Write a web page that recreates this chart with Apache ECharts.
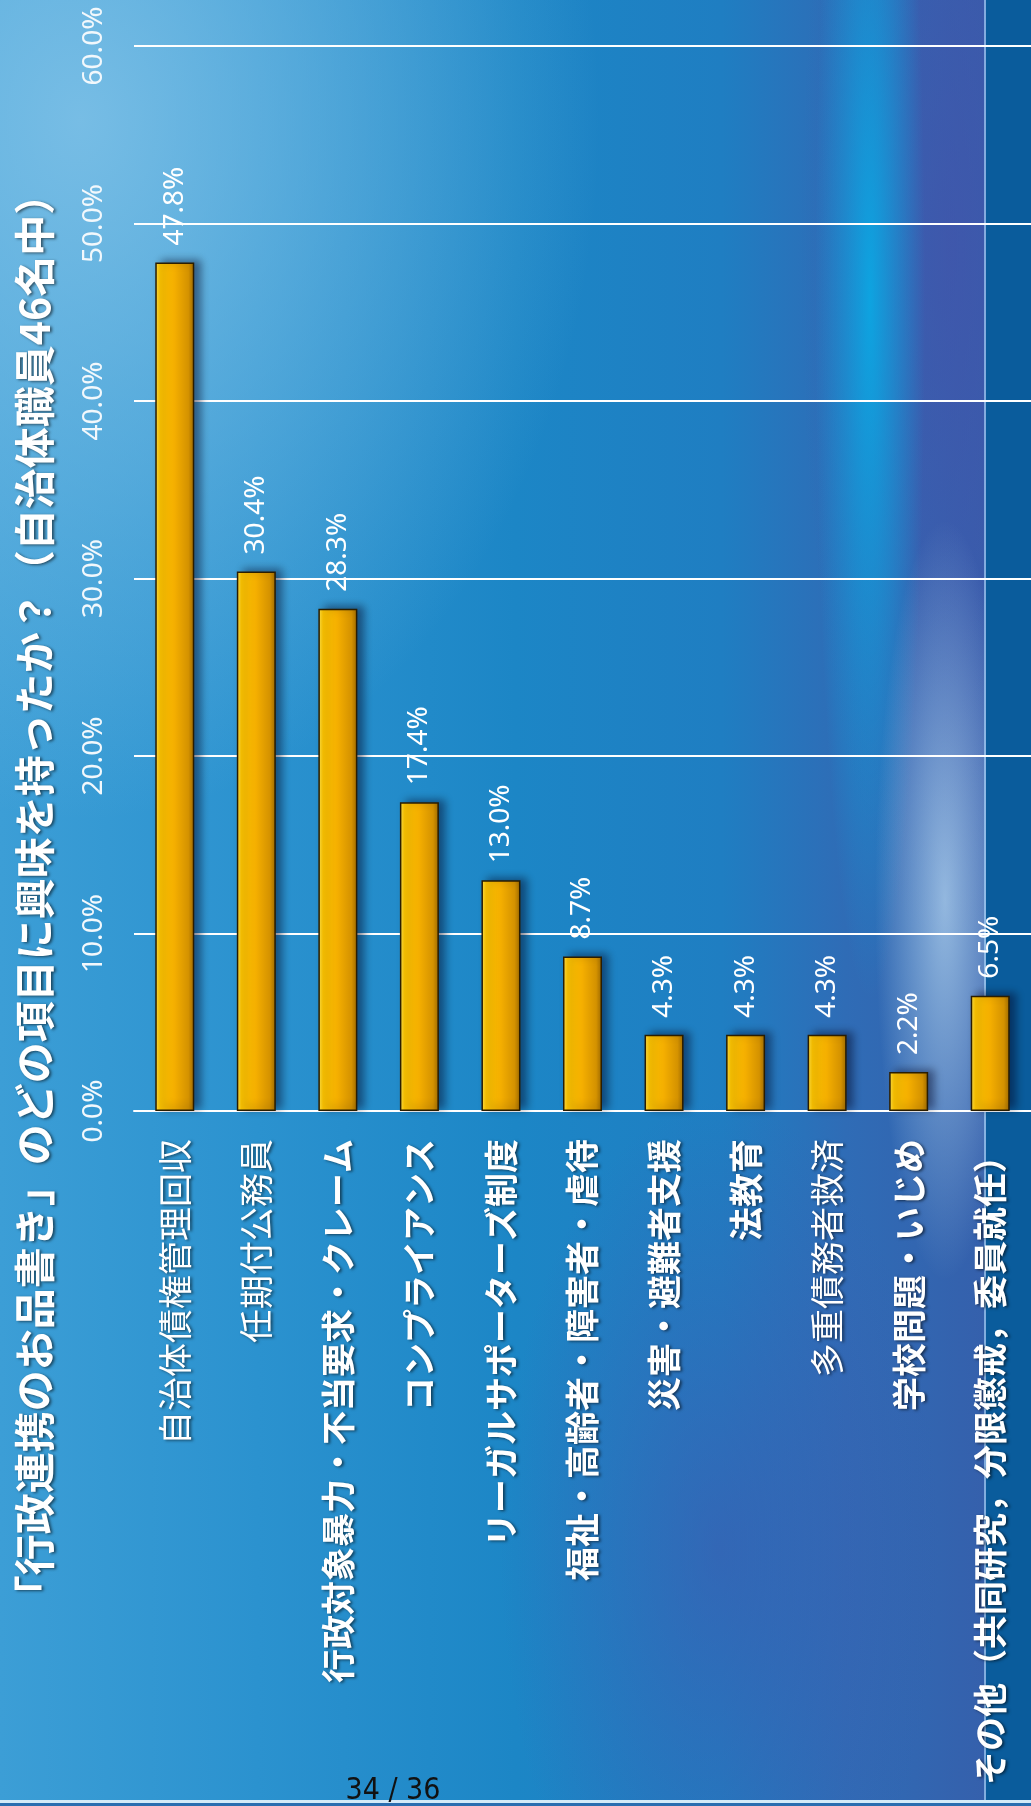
<!DOCTYPE html>
<html>
<head>
<meta charset="utf-8">
<script src="https://cdn.jsdelivr.net/npm/echarts@6/dist/echarts.min.js"></script>
<style>
html, body { margin: 0; padding: 0; }
body {
    width: 1031px; height: 1806px; overflow: hidden;
    background:
        linear-gradient(to bottom, transparent 1800px, #d4eaf8 1800px, #d4eaf8 1803px, #2a6db0 1803px),
        linear-gradient(to right, transparent 984px, rgba(170,215,250,0.65) 984px, rgba(170,215,250,0.65) 986px, transparent 986px),
        linear-gradient(to right, transparent 986px, #0a5c9c 986px),
        radial-gradient(ellipse 70px 380px at 945px 900px, rgba(210,240,255,0.6), rgba(210,240,255,0) 100%),
        radial-gradient(ellipse 55px 700px at 870px 300px, rgba(0,185,240,0.75), rgba(0,185,240,0) 100%),
        radial-gradient(ellipse 520px 700px at 80px 120px, rgba(130,195,232,0.85), rgba(130,195,232,0) 100%),
        radial-gradient(ellipse 150px 700px at 950px 250px, rgba(70,80,170,0.6), rgba(70,80,170,0) 100%),
        radial-gradient(ellipse 220px 450px at 720px 1550px, rgba(70,80,170,0.5), rgba(70,80,170,0) 100%),
        linear-gradient(to right, #3c9ed6 0%, #2b92cf 25%, #1c86c6 50%, #1f7ec2 70%, #2f6cb6 82%, #3560ac 95.5%);
}
#main { width: 1031px; height: 1806px; }
</style>
</head>
<body>
<div id="main"></div>
<script>
var categories = [
    "自治体債権管理回収",
    "任期付公務員",
    "行政対象暴力・不当要求・クレーム",
    "コンプライアンス",
    "リーガルサポーターズ制度",
    "福祉・高齢者・障害者・虐待",
    "災害・避難者支援",
    "法教育",
    "多重債務者救済",
    "学校問題・いじめ",
    "その他（共同研究，分限懲戒，委員就任）"
];
var values = [47.8, 30.4, 28.3, 17.4, 13.0, 8.7, 4.3, 4.3, 4.3, 2.2, 6.5];
var axisMax = 60;
var axisStep = 10;
var titleText = "「行政連携のお品書き」のどの項目に興味を持ったか？（自治体職員46名中）";
var pageText = "34 / 36";

// labels drawn in bold on the slide
var boldCats = ["行政対象暴力・不当要求・クレーム", "コンプライアンス", "リーガルサポーターズ制度",
    "福祉・高齢者・障害者・虐待", "災害・避難者支援", "法教育", "学校問題・いじめ",
    "その他（共同研究，分限懲戒，委員就任）"];

var cjk = '"Noto Sans CJK JP", "Noto Sans CJK SC", sans-serif';
var latin = '"Noto Sans", "Open Sans", sans-serif';
var shadow = { textShadowColor: "rgba(0,0,0,0.55)", textShadowBlur: 3, textShadowOffsetX: 2, textShadowOffsetY: 1 };

var myChart = echarts.init(document.getElementById("main"), null, { renderer: "canvas" });
myChart.setOption({
    backgroundColor: "transparent",
    animation: false,
    grid: { left: 134, top: 46, width: 902, height: 1065 },
    xAxis: {
        type: "category",
        data: categories,
        axisLine: { show: true, lineStyle: { color: "#ffffff", width: 2 } },
        axisTick: { show: false },
        axisLabel: {
            interval: 0,
            rotate: 90,
            margin: 28,
            formatter: function (v) {
                return boldCats.indexOf(v) >= 0 ? "{b|" + v + "}" : "{n|" + v + "}";
            },
            rich: {
                b: Object.assign({ color: "#fff", fontSize: 34, fontWeight: "bold", fontFamily: cjk }, shadow),
                n: Object.assign({ color: "#fff", fontSize: 34, fontWeight: "normal", fontFamily: cjk }, shadow)
            }
        }
    },
    yAxis: {
        type: "value",
        min: 0,
        max: axisMax,
        interval: axisStep,
        axisLine: { show: false },
        axisTick: { show: false },
        splitLine: { lineStyle: { color: "#ffffff", width: 2 } },
        axisLabel: {
            rotate: 90,
            margin: 26,
            align: "center",
            verticalAlign: "bottom",
            color: "#f2f8fc",
            fontSize: 28,
            fontFamily: latin,
            formatter: function (v) { return v.toFixed(1) + "%"; }
        }
    },
    series: [{
        type: "bar",
        data: values,
        barWidth: 39,
        itemStyle: {
            color: new echarts.graphic.LinearGradient(0, 0, 1, 0, [
                { offset: 0, color: "#ffe24a" },
                { offset: 0.12, color: "#ffc600" },
                { offset: 0.5, color: "#f4ae00" },
                { offset: 0.85, color: "#d49200" },
                { offset: 1, color: "#a06c00" }
            ]),
            borderColor: "#2b1d00",
            borderWidth: 1.5,
            shadowColor: "rgba(0,0,30,0.45)",
            shadowBlur: 8,
            shadowOffsetX: 6,
            shadowOffsetY: -2
        },
        label: {
            show: true,
            position: "top",
            distance: 17,
            rotate: 90,
            align: "left",
            verticalAlign: "middle",
            color: "#ffffff",
            fontSize: 28,
            fontFamily: latin,
            formatter: function (p) { return p.value.toFixed(1) + "%"; }
        }
    }],
    graphic: [
        {
            type: "text",
            x: 34,
            y: 895,
            rotation: Math.PI / 2,
            style: Object.assign({
                text: titleText,
                fill: "#ffffff",
                fontSize: 41,
                fontWeight: "bold",
                fontFamily: cjk,
                align: "center",
                verticalAlign: "middle"
            }, shadow)
        },
        {
            type: "text",
            x: 393,
            y: 1806,
            style: {
                text: pageText,
                fill: "#111111",
                fontSize: 30,
                fontFamily: '"Liberation Sans Narrow", "DejaVu Sans Condensed", sans-serif',
                align: "center",
                verticalAlign: "bottom"
            }
        }
    ]
});
</script>
</body>
</html>
